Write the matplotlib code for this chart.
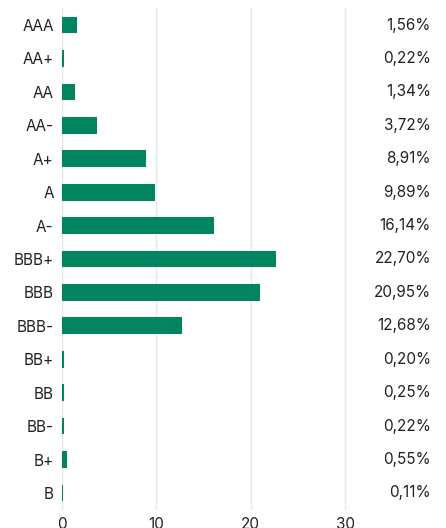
import matplotlib
matplotlib.use("Agg")
import matplotlib.pyplot as plt
import matplotlib.transforms as mtransforms

categories = ["AAA", "AA+", "AA", "AA-", "A+", "A", "A-", "BBB+", "BBB", "BBB-", "BB+", "BB", "BB-", "B+", "B"]
values = [1.56, 0.22, 1.34, 3.72, 8.91, 9.89, 16.14, 22.70, 20.95, 12.68, 0.20, 0.25, 0.22, 0.55, 0.11]
value_labels = ["1,56%", "0,22%", "1,34%", "3,72%", "8,91%", "9,89%", "16,14%", "22,70%", "20,95%", "12,68%", "0,20%", "0,25%", "0,22%", "0,55%", "0,11%"]
xticks = [0, 10, 20, 30]

plt.rcParams['font.family'] = ['Inter', 'DejaVu Sans']
fig = plt.figure(figsize=(4.46, 5.28), dpi=100)
W, H = 446, 528
left, right, top, bottom = 62, 439.6, 8.3, 509.7
ax = fig.add_axes([left / W, 1 - bottom / H, (right - left) / W, (bottom - top) / H])

y = list(range(len(categories)))
ax.barh(y, values, height=0.5, color="#008560", zorder=3)
ax.set_ylim(len(categories) - 0.5, -0.5)
ax.set_xlim(0, 40)
ax.set_xticks(xticks)
ax.set_xticklabels([str(t) for t in xticks])
ax.set_yticks(y)
ax.set_yticklabels(categories)
ax.tick_params(axis="both", length=0, labelsize=11, colors="#222222")
ax.tick_params(axis="y", pad=6)
ax.tick_params(axis="x", pad=5)
ax.grid(axis="x", color="#e5e7eb", linewidth=1, zorder=0)
for s in ax.spines.values():
    s.set_visible(False)
ax.axvline(0, color="#e5e7eb", linewidth=1.5, zorder=1)

trans = mtransforms.blended_transform_factory(fig.transFigure, ax.transData)
for yi, lab in zip(y, value_labels):
    ax.text(431 / W, yi, lab, transform=trans, ha="right", va="center", fontsize=11, color="#222222")

fig.savefig("out.png", dpi=100)
